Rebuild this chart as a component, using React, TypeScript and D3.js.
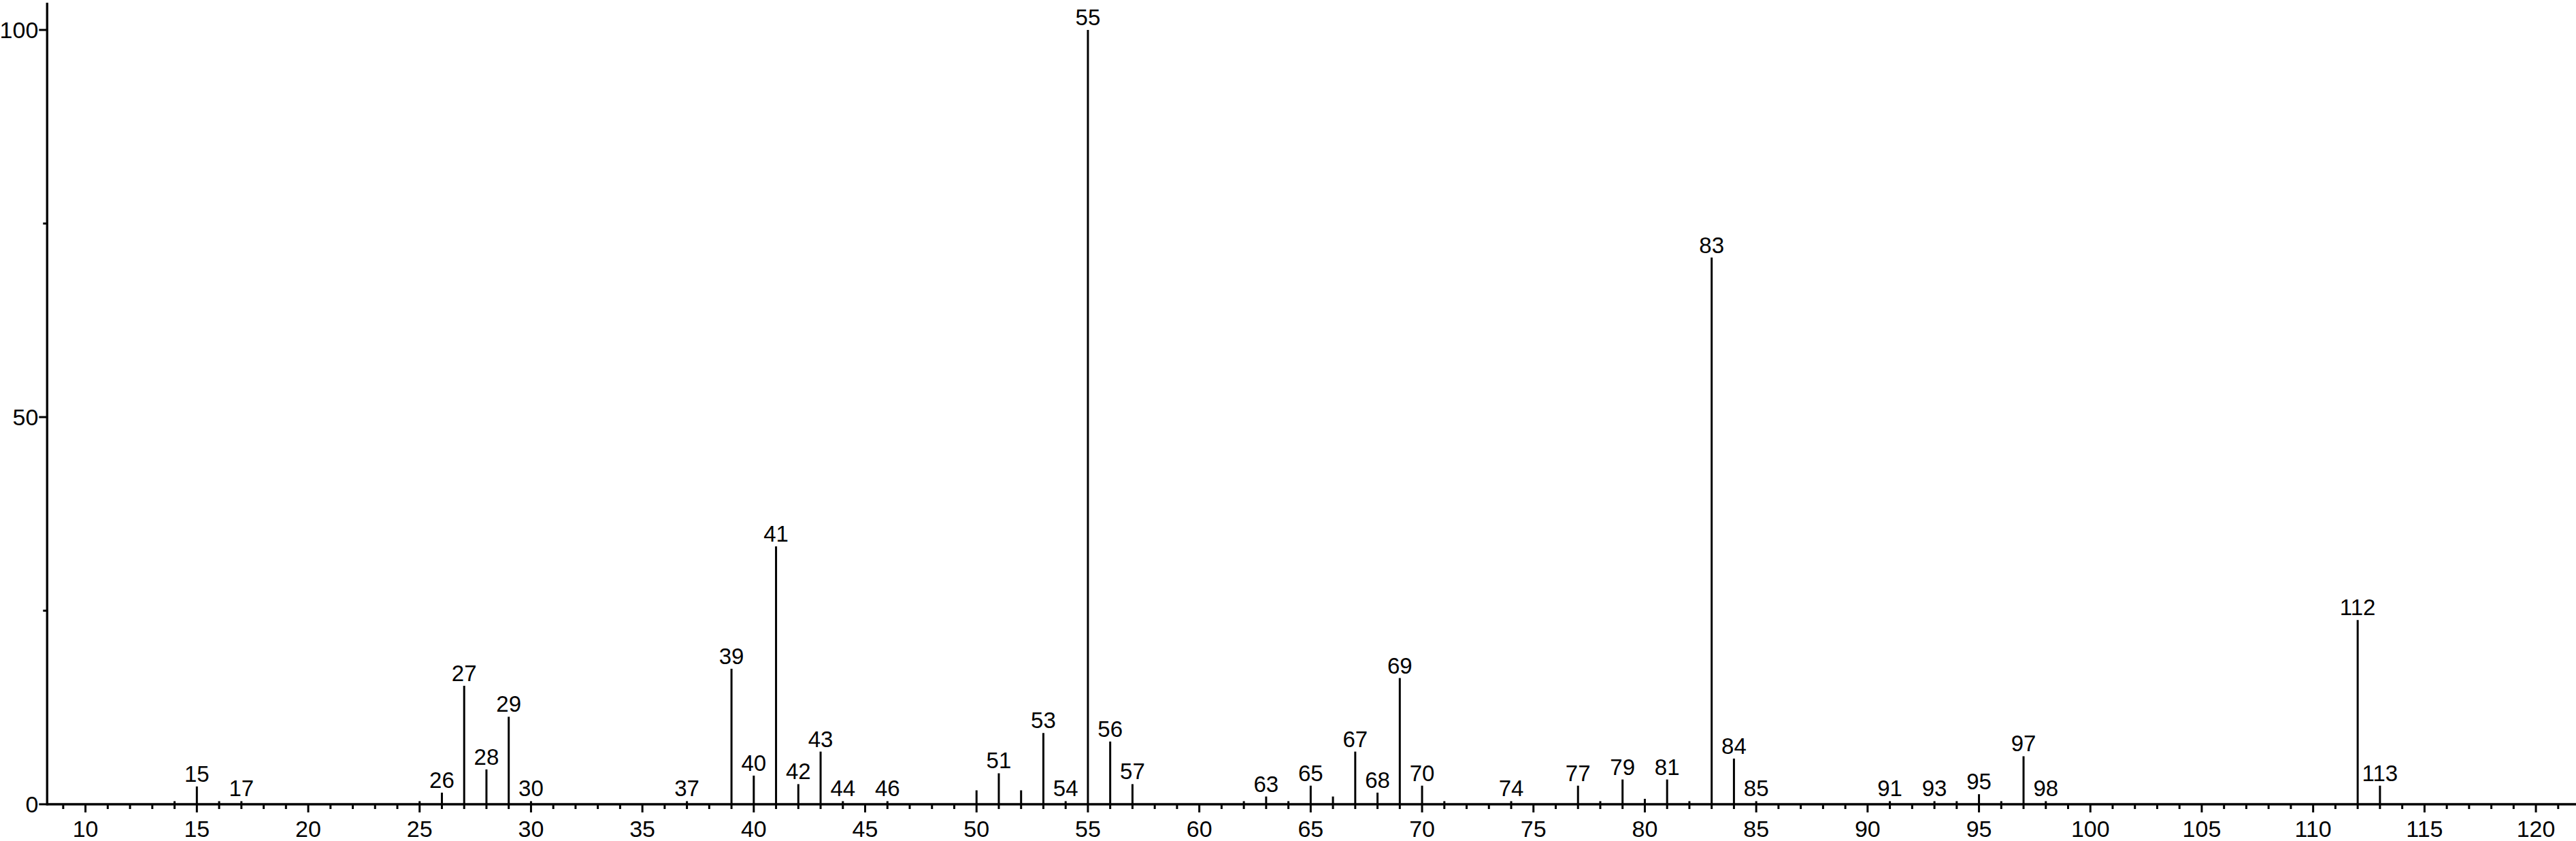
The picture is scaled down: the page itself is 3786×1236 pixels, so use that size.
import React from "react";
import * as d3 from "d3";

// m/z values of the peaks
const masses = [14, 15, 16, 17, 25, 26, 27, 28, 29, 30, 37, 39, 40, 41, 42, 43, 44, 46, 50, 51, 52, 53, 54, 55, 56, 57, 62, 63, 64, 65, 66, 67, 68, 69, 70, 71, 74, 77, 78, 79, 80, 81, 82, 83, 84, 85, 91, 93, 94, 95, 96, 97, 98, 112, 113];
// relative intensities (%)
const intensities = [0.4, 2.3, 0.4, 0.4, 0.4, 1.5, 15.3, 4.5, 11.3, 0.4, 0.4, 17.5, 3.7, 33.3, 2.6, 6.8, 0.4, 0.4, 1.8, 4.0, 1.8, 9.2, 0.4, 100, 8.1, 2.6, 0.4, 1.0, 0.4, 2.4, 1.0, 6.8, 1.5, 16.3, 2.4, 0.4, 0.4, 2.4, 0.4, 3.2, 0.7, 3.2, 0.4, 70.6, 5.9, 0.4, 0.4, 0.4, 0.4, 1.3, 0.4, 6.2, 0.4, 23.8, 2.4];
// peaks that carry a label
const labeledMasses = [15, 17, 26, 27, 28, 29, 30, 37, 39, 40, 41, 42, 43, 44, 46, 51, 53, 54, 55, 56, 57, 63, 65, 67, 68, 69, 70, 74, 77, 79, 81, 83, 84, 85, 91, 93, 95, 97, 98, 112, 113];

const xDomain = [8.28, 121.8];
const yDomain = [0, 100];
const xMajorTicks = [10, 15, 20, 25, 30, 35, 40, 45, 50, 55, 60, 65, 70, 75, 80, 85, 90, 95, 100, 105, 110, 115, 120];
const yMajorTicks = [0, 50, 100];
const yMinorTicks = [25, 75];

const W = 3786;
const H = 1236;
const FONT = "'Liberation Sans', Arial, Helvetica, sans-serif";

export default function App() {
  const x = d3.scaleLinear().domain(xDomain).range([69.3, W]);
  const y = d3.scaleLinear().domain(yDomain).range([1182, 44]);
  const minorTicks = d3.range(Math.ceil(xDomain[0]), Math.floor(xDomain[1]) + 1).filter((v) => v % 5 !== 0);
  const x0 = x(xDomain[0]);
  const y0 = y(0);
  const peaks = masses.map((m, i) => ({ m, v: intensities[i] }));

  return (
    <div style={{ position: "fixed", left: 0, top: 0, width: W, height: H, background: "#fff" }}>
      <svg width={W} height={H} style={{ display: "block" }} fontFamily={FONT}>
        <rect x={0} y={0} width={W} height={H} fill="#fff" />
        {/* peaks */}
        {peaks.map((p) => (
          <line key={"p" + p.m} x1={x(p.m)} x2={x(p.m)} y1={y0} y2={y(p.v)} stroke="#000" strokeWidth={3} />
        ))}
        {/* peak labels */}
        {peaks
          .filter((p) => labeledMasses.includes(p.m))
          .map((p) => (
            <text key={"l" + p.m} x={x(p.m)} y={y(p.v) - 7} textAnchor="middle" fontSize={33} fill="#000">
              {p.m}
            </text>
          ))}
        {/* x axis */}
        <line x1={x0} x2={W} y1={y0} y2={y0} stroke="#000" strokeWidth={3.4} />
        {minorTicks.map((t) => (
          <line key={"mx" + t} x1={x(t)} x2={x(t)} y1={y0} y2={y0 + 7} stroke="#000" strokeWidth={3} />
        ))}
        {xMajorTicks.map((t) => (
          <g key={"Mx" + t}>
            <line x1={x(t)} x2={x(t)} y1={y0} y2={y0 + 12} stroke="#000" strokeWidth={3} />
            <text x={x(t)} y={1230} textAnchor="middle" fontSize={34} fill="#000">
              {t}
            </text>
          </g>
        ))}
        {/* y axis */}
        <line x1={x0} x2={x0} y1={4} y2={y0 + 1.7} stroke="#000" strokeWidth={3.4} />
        {yMinorTicks.map((t) => (
          <line key={"my" + t} x1={x0 - 6} x2={x0} y1={y(t)} y2={y(t)} stroke="#000" strokeWidth={3} />
        ))}
        {yMajorTicks.map((t) => (
          <g key={"My" + t}>
            <line x1={x0 - 12} x2={x0} y1={y(t)} y2={y(t)} stroke="#000" strokeWidth={3} />
            <text x={x0 - 13} y={y(t)} dy="0.36em" textAnchor="end" fontSize={34} fill="#000">
              {t}
            </text>
          </g>
        ))}
      </svg>
    </div>
  );
}
